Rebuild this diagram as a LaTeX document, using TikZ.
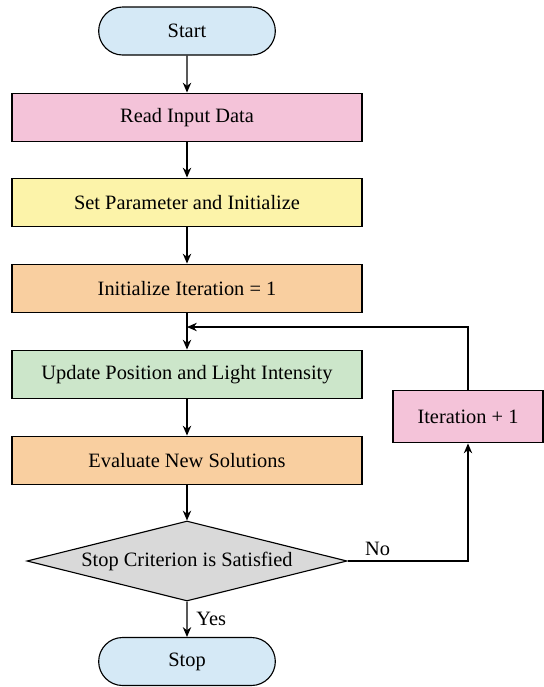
\documentclass[tikz,border=0pt]{standalone}
\usepackage{fontspec}
\setmainfont{Liberation Serif}
\usetikzlibrary{arrows.meta,shapes.geometric,shapes.misc}
\definecolor{cblue}{HTML}{D5E9F6}
\definecolor{cpink}{HTML}{F4C3D9}
\definecolor{cyell}{HTML}{FCF3A9}
\definecolor{corng}{HTML}{F9CFA0}
\definecolor{cgren}{HTML}{CCE6CA}
\definecolor{cgray}{HTML}{D9D9D9}
\tikzset{%
    trm/.style={rounded rectangle,draw,minimum width=4.65cm,minimum height=1.2cm},
    blk/.style={rectangle,draw,minimum width=8.75cm,minimum height=1.22cm},
    dec/.style={diamond,draw,fill=cgray,aspect=4,minimum width=8cm,minimum height=2cm,inner sep=0pt},
    arw/.style={line width=0.8pt,-{Stealth[length=7pt,width=6pt]}}
}

\begin{document}
\begin{tikzpicture}[x=0.025cm,y=-0.025cm,line width=0.8pt,font=\fontsize{14.5pt}{17pt}\selectfont]
    \useasboundingbox (0,0) rectangle (544,687);
    \node [trm,fill=cblue] (start) at (187,31) {Start};
    \node [blk,fill=cpink] (read) at (187,117.5) {Read Input Data};
    \node [blk,fill=cyell] (param) at (187,202.5) {Set Parameter and Initialize};
    \node [blk,fill=corng] (init) at (187,288.5) {Initialize Iteration = 1};
    \node [blk,fill=cgren] (upd) at (187,374.5) {Update Position and Light Intensity};
    \node [blk,fill=corng] (eval) at (187,460.5) {Evaluate New Solutions};
    \node [dec] (chk) at (187,561) {Stop Criterion is Satisfied};
    \node [trm,fill=cblue] (stop) at (187,661.5) {Stop};
    \node [rectangle,draw,fill=cpink,minimum width=3.75cm,minimum height=1.32cm] (iter) at (468,416.5) {Iteration + 1};
    \coordinate (loop) at (187,327);
    \draw [arw] (start) -- (read);
    \draw [arw] (read) -- (param);
    \draw [arw] (param) -- (init);
    \draw [arw] (init) -- (upd);
    \draw [arw] (upd) -- (eval);
    \draw [arw] (eval) -- (chk);
    \draw [arw] (chk) -- node[right=3pt]{Yes} (stop);
    \draw [arw] (chk.east) -- node[above,pos=0.25]{No} (chk.east -| iter.south) -- (iter.south);
    \draw [arw] (iter.north) |- (loop);
\end{tikzpicture}
\end{document}
